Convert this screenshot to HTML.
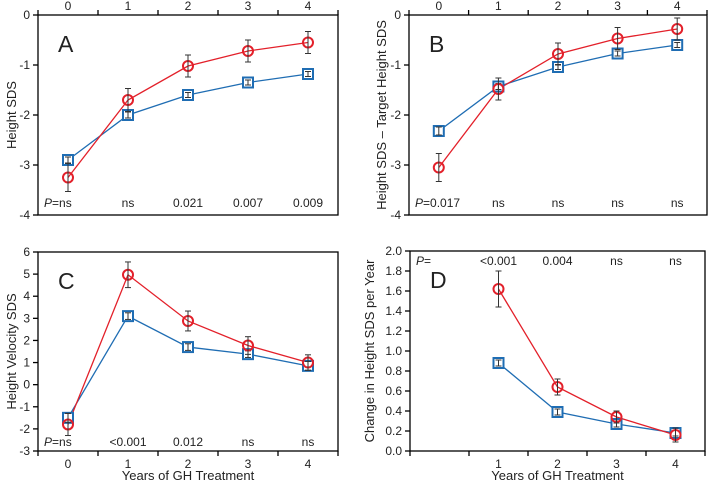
<!DOCTYPE html>
<html><head><meta charset="utf-8"><style>
html,body{margin:0;padding:0;background:#fff}
svg{display:block;font-family:"Liberation Sans",Arial,sans-serif}
</style></head><body>
<svg id="fig" width="711" height="484" viewBox="0 0 711 484"></svg>
<script>
const years=[0,1,2,3,4];
const yearsD=[1,2,3,4];
const aRed=[-3.25,-1.7,-1.02,-0.72,-0.55], aRedErr=[0.28,0.23,0.22,0.22,0.22];
const aBlue=[-2.9,-2.0,-1.6,-1.35,-1.18], aBlueErr=[0.06,0.06,0.05,0.05,0.05];
const bRed=[-3.05,-1.48,-0.78,-0.47,-0.28], bRedErr=[0.28,0.22,0.22,0.22,0.22];
const bBlue=[-2.32,-1.43,-1.04,-0.77,-0.6], bBlueErr=[0.08,0.06,0.05,0.05,0.05];
const cRed=[-1.8,4.97,2.88,1.77,1.0], cRedErr=[0.5,0.58,0.45,0.4,0.35];
const cBlue=[-1.5,3.1,1.7,1.38,0.85], cBlueErr=[0.2,0.15,0.15,0.15,0.2];
const dRed=[1.62,0.64,0.34,0.16], dRedErr=[0.18,0.08,0.06,0.07];
const dBlue=[0.88,0.39,0.27,0.18], dBlueErr=[0.03,0.03,0.03,0.03];
const pA=["ns","ns","0.021","0.007","0.009"];
const pB=["0.017","ns","ns","ns","ns"];
const pC=["ns","<0.001","0.012","ns","ns"];
const pD=["<0.001","0.004","ns","ns"];
const ticksAB=[0,-1,-2,-3,-4];
const ticksC=[6,5,4,3,2,1,0,-1,-2,-3];
const ticksD=[0,0.2,0.4,0.6,0.8,1.0,1.2,1.4,1.6,1.8,2.0];

const NS="http://www.w3.org/2000/svg";
const svg=document.getElementById('fig');
function el(tag,attrs,parent,text){const e=document.createElementNS(NS,tag);for(const k in attrs)e.setAttribute(k,attrs[k]);if(text!==undefined)e.textContent=text;(parent||svg).appendChild(e);return e;}
const RED="#e3202a",BLUE="#1f6db3",TXT="#222";

function panel(o){
  const g=el('g',{fill:TXT});
  
  
  const xs=v=>o.L+(v+0.5)*(o.R-o.L)/5;
  const ys=v=>o.T+(o.ymax-v)*(o.B-o.T)/(o.ymax-o.ymin);
  el('rect',{x:o.L,y:o.T,width:o.R-o.L,height:o.B-o.T,fill:'none',stroke:'#000','stroke-width':1.3},g);
  o.yt.forEach(v=>{const y=ys(v);el('line',{x1:o.L-5,x2:o.L,y1:y,y2:y,stroke:'#000','stroke-width':1.3},g);
    const t=el('text',{x:o.L-8,y:y+4,'font-size':12,'text-anchor':'end'},g,o.fmt?v.toFixed(1):String(v));
    });
  const axY=o.top?o.T:o.B, dir=o.top?-1:1;
  for(let i=0;i<=5;i++){const x=o.L+i*(o.R-o.L)/5;el('line',{x1:x,x2:x,y1:axY,y2:axY+dir*5,stroke:'#000','stroke-width':1.3},g);}
  o.xl.forEach(v=>{const t=el('text',{x:xs(v),y:o.top?axY-5:axY+17,'font-size':12,'text-anchor':'middle'},g,String(v));
    });
  if(!o.top){const t=el('text',{x:(o.L+o.R)/2,y:480,'font-size':13,'text-anchor':'middle'},g,'Years of GH Treatment');
    }
  const yt=el('text',{transform:`translate(${o.yx},${(o.T+o.B)/2}) rotate(-90)`,'font-size':13,'text-anchor':'middle'},g,o.ytitle);
  
  const lt=el('text',{x:o.L+20,y:o.T+37,'font-size':23},g,o.letter);
  
  if(o.pLead){const t=el('text',{x:o.L+6,y:o.pY,'font-size':12},g);
    el('tspan',{'font-style':'italic'},t,'P');el('tspan',{},t,'=');
    }
  o.pv.forEach((p,i)=>{let x=xs(o.xv[i]);let anchor='middle';
    if(i===0&&!o.pLead){x=o.L+6;anchor='start';}
    const t=el('text',{x:x,y:o.pY,'font-size':12,'text-anchor':anchor},g);
    if(i===0&&!o.pLead){el('tspan',{'font-style':'italic'},t,'P');el('tspan',{},t,'='+p);}else t.textContent=p;
    });
  [[o.blue,o.blueErr,BLUE,'blue'],[o.red,o.redErr,RED,'red']].forEach(([vals,err,col,nm])=>{
    const sg=el('g',{},g);
    el('polyline',{points:vals.map((v,i)=>xs(o.xv[i])+','+ys(v)).join(' '),fill:'none',stroke:col,'stroke-width':1.3},sg);
  });
  [[o.blue,o.blueErr,BLUE,'blue'],[o.red,o.redErr,RED,'red']].forEach(([vals,err,col,nm])=>{
    vals.forEach((v,i)=>{const x=xs(o.xv[i]),y=ys(v),y1=ys(v+err[i]),y2=ys(v-err[i]);
      const m=el('g',{},g);
      if(nm==='red') el('circle',{cx:x,cy:y,r:5,fill:'none',stroke:col,'stroke-width':2},m);
      else el('rect',{x:x-5,y:y-5,width:10,height:10,fill:'#fff',stroke:col,'stroke-width':2},m);
      el('line',{x1:x,x2:x,y1:y1,y2:y2,stroke:'#333','stroke-width':1},m);
      el('line',{x1:x-3,x2:x+3,y1:y1,y2:y1,stroke:'#333','stroke-width':1},m);
      el('line',{x1:x-3,x2:x+3,y1:y2,y2:y2,stroke:'#333','stroke-width':1},m);
    });
  });
}
panel({letter:'A',L:38,R:338,T:15,B:215,ymin:-4,ymax:0,yt:ticksAB,top:true,xl:years,xv:years,yx:16,ytitle:'Height SDS',
  red:aRed,redErr:aRedErr,blue:aBlue,blueErr:aBlueErr,pv:pA,pY:207});
panel({letter:'B',L:409,R:707,T:15,B:215,ymin:-4,ymax:0,yt:ticksAB,top:true,xl:years,xv:years,yx:386,ytitle:'Height SDS \u2013 Target Height SDS',
  red:bRed,redErr:bRedErr,blue:bBlue,blueErr:bBlueErr,pv:pB,pY:207});
panel({letter:'C',L:38,R:338,T:252,B:451,ymin:-3,ymax:6,yt:ticksC,top:false,xl:years,xv:years,yx:16,ytitle:'Height Velocity SDS',
  red:cRed,redErr:cRedErr,blue:cBlue,blueErr:cBlueErr,pv:pC,pY:446});
panel({letter:'D',L:410,R:705,T:251,B:451,ymin:0,ymax:2,yt:ticksD,fmt:true,top:false,xl:yearsD,xv:yearsD,yx:374,ytitle:'Change in Height SDS per Year',
  red:dRed,redErr:dRedErr,blue:dBlue,blueErr:dBlueErr,pv:pD,pY:265,pLead:true});
</script>
</body></html>
